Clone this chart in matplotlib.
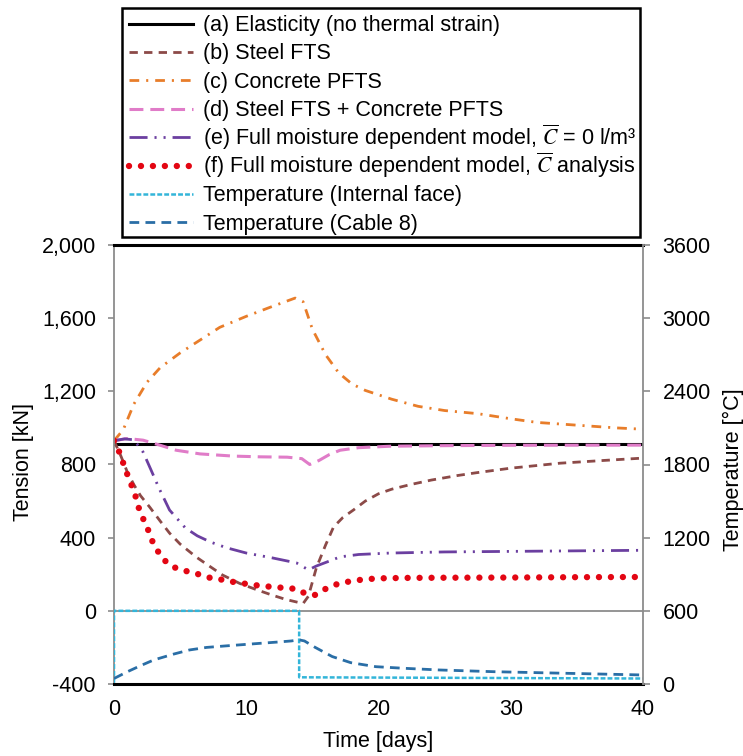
import matplotlib
matplotlib.use("Agg")
import matplotlib.pyplot as plt
from matplotlib.lines import Line2D
from matplotlib.patches import Rectangle
from matplotlib.ticker import FuncFormatter, MultipleLocator

plt.rcParams['font.family'] = ['Liberation Sans', 'DejaVu Sans']
plt.rcParams['mathtext.fontset'] = 'stix'
plt.rcParams['axes.unicode_minus'] = False
plt.rcParams['lines.scale_dashes'] = False

FS = 15.5
W, H = 743, 756

# ---- Data: tension [kN] vs time [days] ----
t_elastic = [0, 40]
T_elastic = [910, 910]

t_steel = [0, 0.5, 1, 1.5, 2, 2.7, 3.5, 4.2, 5, 6.2, 7, 8.2, 9.5, 10.8, 12, 13, 14,
           14.3, 14.7, 15.3, 16, 16.6, 17.3, 18.1, 19, 20, 21, 22.4, 24, 26, 27.4,
           30, 33.7, 37, 40]
T_steel = [930, 850, 760, 690, 630, 567, 490, 425, 365, 295, 255, 196, 150, 115, 85,
           62, 45, 40, 80, 235, 360, 458, 510, 551, 600, 640, 665, 690, 715, 740, 755,
           780, 807, 822, 835]

t_conc = [0, 0.7, 1.5, 2.5, 3.5, 5, 6.5, 8, 10, 12, 13.7, 14.3, 15, 16, 17, 18, 19,
          21, 23, 25, 27.5, 30, 32, 35, 38, 40]
T_conc = [930, 990, 1130, 1250, 1330, 1410, 1480, 1550, 1610, 1665, 1710, 1690, 1540,
          1400, 1300, 1240, 1205, 1157, 1118, 1095, 1078, 1050, 1030, 1015, 1000, 993]

t_combo = [0, 1, 2.2, 3.5, 4.7, 6.5, 9, 11, 13.1, 14.2, 14.8, 15.5, 16.3, 17.1, 18.5,
           20.9, 25, 30, 40]
T_combo = [930, 942, 933, 905, 878, 858, 846, 842, 840, 832, 800, 822, 855, 878, 892,
           900, 903, 905, 906]

t_moist0 = [0, 0.8, 1.5, 2.2, 2.8, 3.4, 4.2, 5.4, 6.3, 7.3, 8.5, 10, 12, 13.8, 14.7,
            15.3, 16.1, 17.1, 18.5, 20.9, 25, 30, 35, 40]
T_moist0 = [930, 940, 935, 868, 770, 671, 551, 453, 410, 376, 345, 316, 289, 262, 224,
            245, 267, 295, 308, 316, 322, 325, 328, 331]

t_moist = [0, 0.4, 0.7, 1.0, 1.35, 1.65, 1.9, 2.25, 2.65, 2.95, 3.4, 4.0, 4.8, 5.7,
           6.6, 7.5, 8.4, 9.3, 10.1, 11.1, 12.0, 12.9, 13.8, 14.5, 15.2, 16.0, 16.9,
           17.6, 18.6, 19.5, 20.3, 22, 25, 30, 35, 40]
T_moist = [930, 868, 807, 747, 682, 622, 556, 496, 431, 371, 316, 262, 229, 213, 196,
           175, 169, 153, 147, 136, 131, 125, 120, 93, 87, 120, 147, 158, 169, 175, 178,
           180, 181, 182, 184, 185]

# ---- Data: temperature [°C] vs time [days] ----
t_face = [0, 0, 14, 14, 40]
temp_face = [10, 600, 600, 55, 45]

t_cable = [0, 1, 2, 3, 4.5, 5.7, 7, 8.4, 10, 11.1, 12.5, 13.4, 14, 14.4, 15.2, 16.5,
           17.9, 19.8, 21.9, 24.6, 28.7, 34.1, 40]
temp_cable = [45, 100, 150, 197, 245, 279, 300, 312, 325, 334, 345, 353, 362, 353, 301,
              225, 175, 142, 129, 115, 101, 88, 74]

labels = [
    "(a) Elasticity (no thermal strain)",
    "(b) Steel FTS",
    "(c) Concrete PFTS",
    "(d) Steel FTS + Concrete PFTS",
    "(e) Full moisture dependent model, $\\overline{C}$ = 0 l/m³",
    "(f) Full moisture dependent model, $\\overline{C}$ analysis",
    "Temperature (Internal face)",
    "Temperature (Cable 8)",
]

x_ticks = [0, 10, 20, 30, 40]

fig = plt.figure(figsize=(W / 100, H / 100), dpi=100)
ax = fig.add_axes([114 / W, 1 - 684 / H, (643 - 114) / W, (684 - 245) / H])
ax2 = ax.twinx()

gray = '#8c8c8c'

# Tension series
h = []
h += ax.plot(t_elastic, T_elastic, color='black', lw=2.2)
h += ax.plot(t_steel, T_steel, color='#8c4a48', lw=2.0, dashes=(6, 4.5))
h += ax.plot(t_conc, T_conc, color='#e87d2a', lw=2.0, dashes=(7, 5, 1.5, 5))
h += ax.plot(t_combo, T_combo, color='#e07cc8', lw=2.2, dashes=(10, 5))
h += ax.plot(t_moist0, T_moist0, color='#6b3fa0', lw=2.0,
             dashes=(13, 5, 1.5, 5, 1.5, 5))
h += ax.plot(t_moist, T_moist, color='#e30613', lw=4.6, dashes=(0.01, 8.6),
             dash_capstyle='round')

# Temperature series
h += ax2.plot(t_face, temp_face, color='#33b5d9', lw=1.8, dashes=(3.5, 1.5))
h += ax2.plot(t_cable, temp_cable, color='#2a6ea6', lw=2.0, dashes=(7, 4.5))

ax.axhline(0, color=gray, lw=1.3, zorder=1)

ax.set_xlim(0, 40)
ax.set_ylim(-400, 2000)
ax.yaxis.set_major_locator(MultipleLocator(400))
ax.yaxis.set_major_formatter(FuncFormatter(lambda v, p: f"{v:,.0f}"))
ax.set_xticks(x_ticks)
ax2.set_ylim(0, 3600)
ax2.yaxis.set_major_locator(MultipleLocator(600))

for a in (ax, ax2):
    for s in a.spines.values():
        s.set_visible(False)
ax.spines['left'].set_visible(True)
ax.spines['left'].set_color(gray)
ax.spines['left'].set_linewidth(1.3)
ax2.spines['right'].set_visible(True)
ax2.spines['right'].set_color(gray)
ax2.spines['right'].set_linewidth(1.3)
for side in ('top', 'bottom'):
    ax.spines[side].set_visible(True)
    ax.spines[side].set_color('black')
    ax.spines[side].set_linewidth(2.2)

ax.tick_params(axis='x', length=0, pad=11, labelsize=FS)
ax.tick_params(axis='y', length=4, width=1.2, color=gray, pad=9, labelsize=FS)
ax2.tick_params(axis='y', length=5, width=1.2, color=gray, pad=9, labelsize=FS)

fig.text(23 / W, 1 - 462 / H, "Tension [kN]", rotation=90, ha='center', va='center',
         fontsize=FS)
fig.text(733 / W, 1 - 470 / H, "Temperature [°C]", rotation=90, ha='center',
         va='center', fontsize=FS)
fig.text((114 + 643) / 2 / W, 1 - 742 / H, "Time [days]", ha='center', va='center',
         fontsize=FS)

# Legend box with evenly spaced rows (drawn in figure pixels)
box_l, box_r, box_t, box_b = 122, 640, 8, 237
fig.add_artist(Rectangle((box_l / W, 1 - box_b / H), (box_r - box_l) / W,
                         (box_b - box_t) / H, transform=fig.transFigure,
                         facecolor='white', edgecolor='black', lw=1.8, zorder=5))
hx0, hx1, tx = 129, 193, 203
row0, row_step = 23.5, 28.4
for i, (line, lab) in enumerate(zip(h, labels)):
    yc = row0 + row_step * i
    glyph = Line2D([hx0 / W, hx1 / W], [1 - yc / H, 1 - yc / H])
    glyph.update_from(line)
    glyph.set_transform(fig.transFigure)
    glyph.set_clip_on(False)
    glyph.set_zorder(6)
    fig.add_artist(glyph)
    fig.text(tx / W, 1 - (yc + 7.6) / H, lab, ha='left', va='baseline',
             fontsize=FS, zorder=6)

fig.savefig("out.png", dpi=100)
